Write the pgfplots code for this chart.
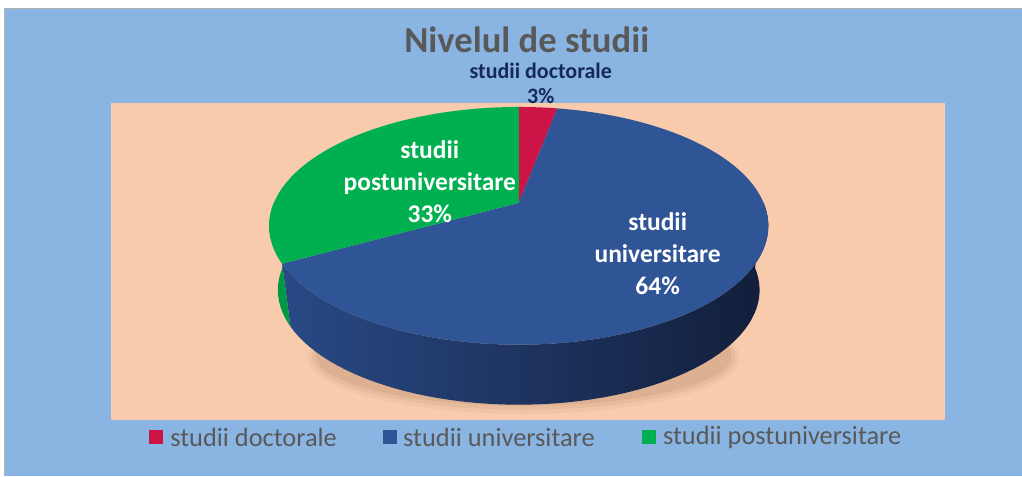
\documentclass[border=0pt]{standalone}
\usepackage{pgfplots}
\pgfplotsset{compat=1.18}
\usepackage{pgfplotstable}
\usepackage{fontspec}
\setmainfont{Carlito}

\definecolor{bgblue}{HTML}{8AB4E1}
\definecolor{peach}{HTML}{F8CBAD}
\definecolor{cred}{HTML}{CC1447}
\definecolor{cblue}{HTML}{2F5597}
\definecolor{cgreen}{HTML}{00B050}
\definecolor{sideL}{HTML}{294985}
\definecolor{sideR}{HTML}{121E3A}
\definecolor{gside}{HTML}{009A44}
\definecolor{titlegray}{HTML}{595959}
\definecolor{navy}{HTML}{16295C}

% share of each level, in percent
\pgfplotstableread{
label value
doctorale 3
universitare 64
postuniversitare 33
}\piedata

\begin{document}
\begin{tikzpicture}
\pgfplotstablegetelem{0}{value}\of\piedata \let\vA\pgfplotsretval
\pgfplotstablegetelem{1}{value}\of\piedata \let\vB\pgfplotsretval
\pgfplotstablegetelem{2}{value}\of\piedata \let\vC\pgfplotsretval
\pgfmathsetmacro\aA{3.6*\vA}
\pgfmathsetmacro\aB{\aA+3.6*\vB}
\pgfmathsetmacro\aC{\aB+3.6*\vC}
\begin{axis}[width=511pt,height=238pt,scale only axis,
  xmin=0,xmax=1022,ymin=0,ymax=476,hide axis,clip=false,
  declare function={
    PX(\a,\s)=519+\s*245*sin(\a)/(1+0.193*cos(\a));
    PY(\a,\s,\d)=273-\d+\s*114.5*cos(\a)/(1+0.193*cos(\a));
    SB(\t)=(\t>60.5);
    ST(\t,\p,\q)=\p+(\q-\p)*((1-SB(\t))*\t+SB(\t)*(121-\t))/60;
  }]
% backgrounds
\fill[white] (axis cs:0,0) rectangle (axis cs:1022,476);
\fill[bgblue] (axis cs:5,0) rectangle (axis cs:1022,467);
\draw[gray!60,line width=0.5pt] (axis cs:4.5,0) -- (axis cs:4.5,467.5) -- (axis cs:1022,467.5);
\fill[peach] (axis cs:111,56) rectangle (axis cs:945,373);
% soft shadow below the front edge
\fill[brown!60!black,opacity=0.05] (axis cs:524,118) ellipse [x radius=108pt, y radius=28pt];
\fill[brown!60!black,opacity=0.07] (axis cs:524,119) ellipse [x radius=106pt, y radius=26.5pt];
\fill[brown!60!black,opacity=0.09] (axis cs:524,120) ellipse [x radius=104pt, y radius=25pt];
% sides
\addplot[draw=none,left color=sideL,right color=sideR,domain=0:121,samples=122,variable=\t]
  ({PX(ST(\t,90,\aB),1-0.035*SB(\t))},{PY(ST(\t,90,\aB),1-0.035*SB(\t),65*SB(\t))}) -- cycle;
\addplot[draw=none,fill=gside,domain=0:121,samples=122,variable=\t]
  ({PX(ST(\t,\aB,270),1-0.035*SB(\t))},{PY(ST(\t,\aB,270),1-0.035*SB(\t),65*SB(\t))}) -- cycle;
% top face
\addplot[draw=none,fill=cred,domain=0:\aA,samples=20,variable=\t]
  ({PX(\t,1)},{PY(\t,1,0)}) -- (axis cs:519,273) -- cycle;
\addplot[draw=none,fill=cblue,domain=\aA:\aB,samples=160,variable=\t]
  ({PX(\t,1)},{PY(\t,1,0)}) -- (axis cs:519,273) -- cycle;
\addplot[draw=none,fill=cgreen,domain=\aB:\aC,samples=80,variable=\t]
  ({PX(\t,1)},{PY(\t,1,0)}) -- (axis cs:519,273) -- cycle;
% labels
\node[text=titlegray,font=\fontsize{18.3}{22}\selectfont\bfseries] at (axis cs:527,436) {Nivelul de studii};
\node[text=navy,align=center,font=\fontsize{11}{12.5}\selectfont\bfseries] at (axis cs:541,393) {studii doctorale\\3\%};
\node[text=white,align=center,font=\fontsize{12.75}{16}\selectfont\bfseries] at (axis cs:430,294) {studii\\postuniversitare\\33\%};
\node[text=white,align=center,font=\fontsize{12.75}{16}\selectfont\bfseries] at (axis cs:658,222) {studii\\universitare\\64\%};
% legend
\fill[cred] (axis cs:149,32) rectangle (axis cs:163,46);
\fill[cblue] (axis cs:383,32) rectangle (axis cs:397,46);
\fill[cgreen] (axis cs:642,32) rectangle (axis cs:656,46);
\begin{scope}[every node/.style={anchor=west,inner sep=0pt,text=titlegray,font=\fontsize{13.2}{15}\selectfont}]
\node at (axis cs:170,38) {studii doctorale};
\node at (axis cs:403,38) {studii universitare};
\node at (axis cs:663,38) {studii postuniversitare};
\end{scope}
\end{axis}
\end{tikzpicture}
\end{document}
